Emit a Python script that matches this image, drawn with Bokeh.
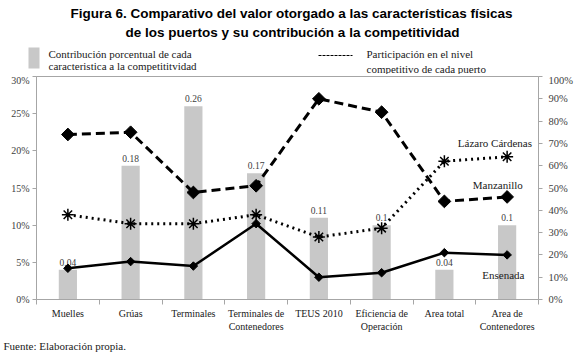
from bokeh.plotting import figure
from bokeh.models import (Range1d, LinearAxis, FixedTicker, NumeralTickFormatter,
                          ColumnDataSource)
from bokeh.layouts import column
from bokeh.core.properties import value
from bokeh.embed import file_html
from bokeh.resources import INLINE
import math

categories = ["Muelles", "Grúas", "Terminales", "Terminales de\nContenedores", "TEUS 2010",
              "Eficiencia de\nOperación", "Area total", "Area de\nContenedores"]
contrib = [0.04, 0.18, 0.26, 0.17, 0.11, 0.10, 0.04, 0.10]
contrib_labels = ["0.04", "0.18", "0.26", "0.17", "0.11", "0.1", "0.04", "0.1"]
manzanillo = [0.74, 0.75, 0.48, 0.51, 0.90, 0.84, 0.44, 0.46]
lazaro = [0.38, 0.34, 0.34, 0.38, 0.28, 0.32, 0.62, 0.64]
ensenada = [0.14, 0.17, 0.15, 0.34, 0.10, 0.12, 0.21, 0.20]
left_ticks = [0, 0.05, 0.10, 0.15, 0.20, 0.25, 0.30]
right_ticks = [0, 0.1, 0.2, 0.3, 0.4, 0.5, 0.6, 0.7, 0.8, 0.9, 1.0]
title_lines = ["Figura 6. Comparativo del valor otorgado a las características físicas",
               "de los puertos y su contribución a la competitividad"]
bar_legend = ["Contribución porcentual de cada", "caracteristica  a la competititvidad"]
line_legend = ["Participación en el nivel", "competitivo de cada puerto"]
series_names = ["Lázaro  Cárdenas", "Manzanillo", "Ensenada"]
source_note = "Fuente: Elaboración propia."

SERIF = "Liberation Serif"
GRAY = "#a6a6a6"
TXT = "#404040"
BARC = "#c8c8c8"

HEAD_H = 74
FOOT_H = 20
MAIN_H = 356 - HEAD_H - FOOT_H
FRAME_L, FRAME_R, FRAME_T, FRAME_B = 36, 538, 76, 299


def blank(h, y0, y1):
    f = figure(width=580, height=h, output_backend="svg", toolbar_location=None,
               x_range=Range1d(0, 580), y_range=Range1d(y0, y1),
               min_border=0, min_border_left=0, min_border_right=0,
               min_border_top=0, min_border_bottom=0,
               x_axis_location=None, y_axis_location=None, frame_align=False)
    f.xgrid.visible = False
    f.ygrid.visible = False
    f.outline_line_color = None
    return f

# ---------- header ----------
head = blank(HEAD_H, HEAD_H, 0)
head.text(x=[291, 292], y=[13, 32], text=title_lines, text_align="center", text_baseline="middle",
          text_font=value("Liberation Sans"), text_font_style="bold", text_font_size="13.5px",
          text_color="black")
head.quad(left=[28], right=[39], top=[47], bottom=[68], fill_color=BARC, line_color=None)
head.text(x=[48, 48], y=[53, 65], text=bar_legend, text_baseline="middle",
          text_font=value(SERIF), text_font_size="11px", text_color="#202020")
head.segment(x0=[318], y0=[55], x1=[352], y1=[55], line_color="black", line_width=1.2,
             line_dash="3 1")
head.text(x=[366, 366], y=[53, 68], text=line_legend, text_baseline="middle",
          text_font=value(SERIF), text_font_size="11px", text_color="#202020")

# ---------- main ----------
xs = [i + 0.5 for i in range(len(categories))]

p = figure(width=580, height=MAIN_H, output_backend="svg", toolbar_location=None,
           x_range=Range1d(0, len(categories)), y_range=Range1d(0, 0.30),
           min_border_left=FRAME_L, min_border_right=580 - FRAME_R,
           min_border_top=FRAME_T - HEAD_H,
           min_border_bottom=MAIN_H - (FRAME_B - HEAD_H),
           x_axis_location=None, y_axis_location=None, frame_align=False)
p.extra_y_ranges = {"right": Range1d(0, 1.0)}
p.xgrid.visible = False
p.ygrid.visible = False
p.outline_line_color = GRAY


def style_axis(ax):
    ax.axis_line_color = GRAY
    ax.major_tick_line_color = GRAY
    ax.minor_tick_line_color = None
    ax.major_tick_in = 0
    ax.major_tick_out = 4
    ax.major_label_text_font = SERIF
    ax.major_label_text_font_size = "10px"
    ax.major_label_text_color = TXT
    ax.major_label_standoff = 3


yl = LinearAxis(ticker=FixedTicker(ticks=left_ticks), formatter=NumeralTickFormatter(format="0%"))
style_axis(yl)
p.add_layout(yl, "left")
yr = LinearAxis(y_range_name="right", ticker=FixedTicker(ticks=right_ticks),
                formatter=NumeralTickFormatter(format="0%"))
style_axis(yr)
yr.major_label_standoff = 6
yr.major_label_text_font_size = "10.5px"
p.add_layout(yr, "right")

xa = LinearAxis(ticker=FixedTicker(ticks=xs, minor_ticks=list(range(len(categories) + 1))),
                major_label_overrides={x: c for x, c in zip(xs, categories)})
style_axis(xa)
xa.major_tick_line_color = None
xa.minor_tick_line_color = GRAY
xa.minor_tick_in = 0
xa.minor_tick_out = 5
xa.major_label_standoff = 3
xa.major_label_text_color = "#202020"
p.add_layout(xa, "below")

src = ColumnDataSource(dict(x=xs, c=contrib, lab=contrib_labels, m=manzanillo, l=lazaro, e=ensenada))

p.vbar(x="x", top="c", width=0.29, source=src, fill_color=BARC, line_color=None)
p.text(x="x", y="c", text="lab", source=src, text_align="center", text_baseline="bottom",
       y_offset=-4, text_font_size="9.5px", text_color=TXT, text_font=value(SERIF))

p.line(x="x", y="m", source=src, y_range_name="right", line_color="black", line_width=3,
       line_dash="9 5")
p.scatter(x="x", y="m", source=src, y_range_name="right", marker="square", size=9,
          angle=math.pi / 4, fill_color="black", line_color="black")

p.line(x="x", y="l", source=src, y_range_name="right", line_color="black", line_width=3,
       line_dash="2 4")
p.scatter(x="x", y="l", source=src, y_range_name="right", marker="asterisk", size=12,
          line_color="black", line_width=1.5)

p.line(x="x", y="e", source=src, y_range_name="right", line_color="black", line_width=2.5)
p.scatter(x="x", y="e", source=src, y_range_name="right", marker="square", size=6,
          angle=math.pi / 4, fill_color="black", line_color="black")

p.text(x=[7.94, 7.75, 7.44], y=[0.70, 0.515, 0.11], text=series_names,
       y_range_name="right", text_align=["right", "right", "center"], text_baseline="middle",
       text_font=value(SERIF), text_font_size="11px", text_color="#202020")

# ---------- footer ----------
foot = blank(FOOT_H, FOOT_H, 0)
foot.text(x=[3], y=[345 - (356 - FOOT_H)], text=[source_note], text_baseline="middle",
          text_font=value(SERIF), text_font_size="11px", text_color="#202020")

layout = column(head, p, foot, spacing=0)
open("out.html", "w").write(file_html(layout, INLINE))
